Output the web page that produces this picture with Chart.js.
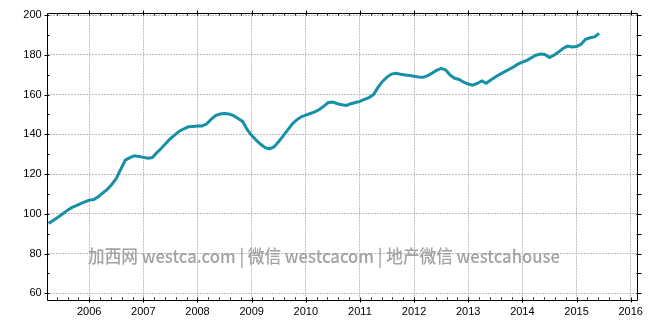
<!DOCTYPE html>
<html>
<head>
<meta charset="utf-8">
<script src="https://cdn.jsdelivr.net/npm/chart.js@4/dist/chart.umd.min.js"></script>
<style>
  html, body { margin: 0; padding: 0; background: #fff; }
  #wrap { width: 649px; height: 325px; position: relative; }
</style>
</head>
<body>
<div id="wrap"><canvas id="chart"></canvas></div>
<script>
// monthly series, first point April 2005
const startYear = 2005;
const startMonth = 4;
const values = [
  95.2, 96.6, 98.2, 99.8, 101.5, 103.0, 104.0, 105.0, 106.0,
  106.9, 107.2, 108.6, 110.5, 112.3, 114.8, 117.8, 122.5, 127.0, 128.3, 129.2, 128.8,
  128.4, 128.0, 128.3, 130.8, 133.0, 135.5, 137.8, 139.7, 141.6, 142.8, 143.8, 144.0,
  144.2, 144.2, 145.2, 147.5, 149.4, 150.2, 150.5, 150.2, 149.4, 148.0, 146.5, 142.5,
  139.5, 137.1, 135.0, 133.3, 132.7, 133.8, 136.4, 139.2, 142.2, 145.2, 147.3, 148.8,
  149.7, 150.5, 151.3, 152.5, 154.2, 156.0, 156.2, 155.4, 154.9, 154.5, 155.4, 156.0,
  156.6, 157.6, 158.5, 160.0, 163.6, 166.6, 168.8, 170.3, 170.7, 170.2, 169.9, 169.6,
  169.2, 168.9, 168.7, 169.5, 170.8, 172.2, 173.2, 172.4, 169.8, 168.2, 167.6, 166.2,
  165.3, 164.7, 165.6, 166.9, 165.7, 167.3, 168.8, 170.2, 171.4, 172.6, 173.9, 175.3,
  176.3, 177.2, 178.5, 179.8, 180.4, 180.2, 178.7, 179.8, 181.4, 183.2, 184.4, 183.9,
  184.2, 185.3, 187.8, 188.6, 189.0, 190.8
];
const yearTicks = [2006, 2007, 2008, 2009, 2010, 2011, 2012, 2013, 2014, 2015, 2016];
const valueTicks = [60, 80, 100, 120, 140, 160, 180, 200];
const watermark = "加西网 westca.com | 微信 westcacom | 地产微信 westcahouse";

const points = values.map((v, i) => ({ x: startYear + (startMonth - 1 + i) / 12, y: v }));

const frame = {
  id: "frame",
  afterDraw(chart) {
    const { ctx, chartArea: a, scales: { x, y } } = chart;
    ctx.save();
    // watermark
    ctx.fillStyle = "#a2a2a2";
    ctx.font = '500 18px "Noto Sans CJK SC", "Open Sans", sans-serif';
    ctx.textBaseline = "middle";
    const w = ctx.measureText(watermark).width;
    ctx.save();
    ctx.translate(88, 256);
    ctx.scale(472 / w, 1);
    ctx.fillText(watermark, 0, 0);
    ctx.restore();

    ctx.strokeStyle = "#000";
    ctx.lineWidth = 1;
    ctx.beginPath();
    ctx.rect(Math.round(a.left) + 0.5, Math.round(a.top) + 0.5,
      Math.round(a.right - a.left), Math.round(a.bottom - a.top));
    const B = Math.round(a.bottom) + 0.5, T = Math.round(a.top) + 0.5;
    const L = Math.round(a.left) + 0.5, R = Math.round(a.right) + 0.5;
    // x minor/major ticks
    for (let t = 2005.4; t < 2016.1; t += 0.2) {
      const px = Math.round(x.getPixelForValue(t)) + 0.5;
      const major = Math.abs(t - Math.round(t)) < 0.01;
      ctx.moveTo(px, B - 2); ctx.lineTo(px, B + (major ? 3 : 0));
      ctx.moveTo(px, T + 2); ctx.lineTo(px, T - (major ? 3 : 0));
    }
    // y minor/major ticks
    for (let v = 60; v <= 200; v += 10) {
      const py = Math.round(y.getPixelForValue(v)) + 0.5;
      const major = v % 20 === 0;
      ctx.moveTo(L - (major ? 3 : 0), py); ctx.lineTo(L + 2, py);
      ctx.moveTo(R - 1, py); ctx.lineTo(R + 4, py);
    }
    ctx.stroke();
    ctx.restore();
  }
};

new Chart(document.getElementById("chart"), {
  type: "line",
  data: {
    datasets: [{
      data: points,
      borderColor: "#1790a7",
      borderWidth: 3,
      pointRadius: 0,
      tension: 0,
      fill: false
    }]
  },
  options: {
    responsive: true,
    maintainAspectRatio: false,
    animation: false,
    layout: { padding: { top: 12.7, right: 10.7, left: 0, bottom: 0 } },
    plugins: { legend: { display: false }, tooltip: { enabled: false } },
    scales: {
      x: {
        type: "linear",
        min: 2005.215,
        max: 2016.11,
        afterBuildTicks: (s) => { s.ticks = yearTicks.map(v => ({ value: v })); },
        afterFit: (s) => { s.height = 25.7; },
        ticks: {
          color: "#000",
          padding: 6,
          maxRotation: 0,
          font: { family: '"Liberation Sans", Arial, sans-serif', size: 11 },
          callback: (v) => String(v)
        },
        grid: { color: "#bcbcbc", drawTicks: false },
        border: { display: false, dash: [2, 1] }
      },
      y: {
        min: 57,
        max: 201.2,
        afterBuildTicks: (s) => { s.ticks = valueTicks.map(v => ({ value: v })); },
        afterFit: (s) => { s.width = 46.7; },
        ticks: {
          color: "#000",
          padding: 5,
          font: { family: '"Liberation Sans", Arial, sans-serif', size: 11 }
        },
        grid: { color: "#bcbcbc", drawTicks: false },
        border: { display: false, dash: [2, 1] }
      }
    }
  },
  plugins: [frame]
});
</script>
</body>
</html>
